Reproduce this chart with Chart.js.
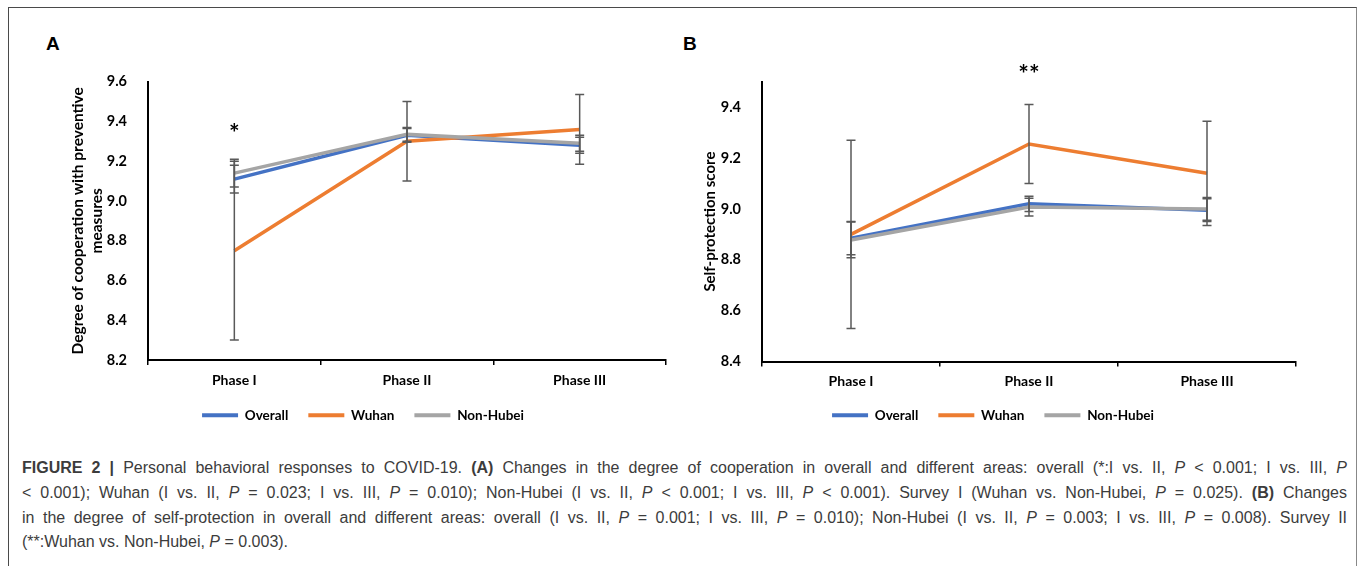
<!DOCTYPE html>
<html>
<head>
<meta charset="utf-8">
<script src="https://cdn.jsdelivr.net/npm/chart.js@4"></script>
<style>
  body { margin: 0; width: 1357px; height: 566px; overflow: hidden; background: #fff; }
  .frame { position: absolute; left: 8px; top: 7px; width: 1347px; height: 620px; border: 1px solid #4a4a4a; border-right-color: #888; }
  .panel { position: absolute; font: bold 19px "Liberation Sans", Arial, sans-serif; color: #000; }
  .box { position: absolute; }
  .caption { position: absolute; left: 22px; top: 456px; width: 1325px; font: 16px "Liberation Sans", Arial, sans-serif; color: #3c3c3c; line-height: 24.8px; }
  .caption div { text-align: justify; text-align-last: justify; }
  .caption div.last { text-align-last: left; }
</style>
</head>
<body>
<div class="frame"></div>
<div class="panel" style="left:46px; top:33px;">A</div>
<div class="panel" style="left:683px; top:33px;">B</div>
<div class="box" style="left:60px; top:60px;"><canvas id="chartA" width="620" height="372"></canvas></div>
<div class="box" style="left:690px; top:60px;"><canvas id="chartB" width="620" height="372"></canvas></div>
<div class="caption">
  <div><b>FIGURE 2 |</b> Personal behavioral responses to COVID-19. <b>(A)</b> Changes in the degree of cooperation in overall and different areas: overall (*:I vs. II, <i>P</i> &lt; 0.001; I vs. III, <i>P</i></div>
  <div>&lt; 0.001); Wuhan (I vs. II, <i>P</i> = 0.023; I vs. III, <i>P</i> = 0.010); Non-Hubei (I vs. II, <i>P</i> &lt; 0.001; I vs. III, <i>P</i> &lt; 0.001). Survey I (Wuhan vs. Non-Hubei, <i>P</i> = 0.025). <b>(B)</b> Changes</div>
  <div>in the degree of self-protection in overall and different areas: overall (I vs. II, <i>P</i> = 0.001; I vs. III, <i>P</i> = 0.010); Non-Hubei (I vs. II, <i>P</i> = 0.003; I vs. III, <i>P</i> = 0.008). Survey II</div>
  <div class="last">(**:Wuhan vs. Non-Hubei, <i>P</i> = 0.003).</div>
</div>
<script>
/* Dane */
var phases = ['Phase I', 'Phase II', 'Phase III'];

// A - cooperation with preventive measures
var overallA = [9.11, 9.33, 9.28];
var wuhanA = [8.75, 9.30, 9.36];
var nonHubeiA = [9.14, 9.335, 9.29];
var errOverallA = [0.07, 0.035, 0.04];
var errWuhanA = [0.45, 0.20, 0.175];
var errNonHubeiA = [0.07, 0.035, 0.04];
var ticksA = [8.2, 8.4, 8.6, 8.8, 9.0, 9.2, 9.4, 9.6];
var markA = ['Phase I', 9.36, '*'];

// B - self-protection score
var overallB = [8.885, 9.02, 8.995];
var wuhanB = [8.90, 9.255, 9.14];
var nonHubeiB = [8.878, 9.007, 9.0];
var errOverallB = [0.065, 0.03, 0.045];
var errWuhanB = [0.37, 0.155, 0.205];
var errNonHubeiB = [0.07, 0.035, 0.045];
var ticksB = [8.4, 8.6, 8.8, 9.0, 9.2, 9.4];
var markB = ['Phase II', 9.545, '**'];

var colOverall = '#4472C4';
var colWuhan = '#ED7D31';
var colNonHubei = '#A5A5A5';

/* Słupki błędów i gwiazdki */
var errorBars = {
    id: 'errorBars',
    afterDatasetsDraw: function (chart) {
        var ctx = chart.ctx;
        var yScale = chart.scales.y;
        ctx.save();
        ctx.strokeStyle = '#595959';
        ctx.lineWidth = 1.5;
        chart.data.datasets.forEach(function (ds, i) {
            var meta = chart.getDatasetMeta(i);
            meta.data.forEach(function (pt, j) {
                var top = yScale.getPixelForValue(ds.data[j] + ds.errors[j]);
                var bot = yScale.getPixelForValue(ds.data[j] - ds.errors[j]);
                ctx.beginPath();
                ctx.moveTo(pt.x, top); ctx.lineTo(pt.x, bot);
                ctx.moveTo(pt.x - 4.5, top); ctx.lineTo(pt.x + 4.5, top);
                ctx.moveTo(pt.x - 4.5, bot); ctx.lineTo(pt.x + 4.5, bot);
                ctx.stroke();
            });
        });
        ctx.restore();
    },
    afterDraw: function (chart) {
        var mark = chart.options.plugins.errorBars.mark;
        var ctx = chart.ctx;
        var x = chart.scales.x.getPixelForValue(phases.indexOf(mark[0]));
        var y = chart.scales.y.getPixelForValue(mark[1]);
        ctx.save();
        ctx.fillStyle = '#000';
        ctx.font = 'bold 25px Lato';
        ctx.textAlign = 'center';
        ctx.textBaseline = 'middle';
        ctx.fillText(mark[2], x, y + 5);
        ctx.restore();
    }
};

var makeChart = function (canvasId, overall, wuhan, nonHubei, errs, yMin, yMax, ticks, title, yWidth, titleFont, titlePad, xHeight, mark) {
    return new Chart(document.getElementById(canvasId), {
        type: 'line',
        data: {
            labels: phases,
            datasets: [
                { label: 'Overall', data: overall, errors: errs[0], borderColor: colOverall, backgroundColor: colOverall, borderWidth: 3.5, pointRadius: 0, order: 3 },
                { label: 'Wuhan', data: wuhan, errors: errs[1], borderColor: colWuhan, backgroundColor: colWuhan, borderWidth: 3.5, pointRadius: 0, order: 2 },
                { label: 'Non-Hubei', data: nonHubei, errors: errs[2], borderColor: colNonHubei, backgroundColor: colNonHubei, borderWidth: 3.5, pointRadius: 0, order: 1 }
            ]
        },
        options: {
            responsive: false,
            maintainAspectRatio: false,
            animation: false,
            layout: { padding: { top: 17, right: 14, left: 0, bottom: 0 } },
            scales: {
                x: {
                    offset: true,
                    grid: { display: true, offset: true, drawOnChartArea: false, drawTicks: true, tickLength: 5, color: '#000', lineWidth: 1.5 },
                    border: { color: '#000', width: 2 },
                    ticks: { color: '#000', padding: 7, font: { family: 'Lato', weight: 'bold', size: 14 } },
                    afterFit: function (s) { s.height = xHeight; }
                },
                y: {
                    min: yMin,
                    max: yMax,
                    grid: { display: false },
                    border: { color: '#000', width: 2 },
                    afterBuildTicks: function (s) { s.ticks = ticks.map(function (v) { return { value: v }; }); },
                    ticks: {
                        color: '#000', padding: 13,
                        font: { family: 'Lato', weight: 'bold', size: 14.5 },
                        callback: function (v) { return Number(v).toFixed(1); }
                    },
                    title: {
                        display: true, text: title, color: '#000',
                        padding: { top: titlePad, bottom: 0 },
                        font: { family: 'Lato', weight: 'bold', size: titleFont, lineHeight: 1.25 }
                    },
                    afterFit: function (s) { s.width = yWidth; }
                }
            },
            plugins: {
                tooltip: { enabled: false },
                errorBars: { mark: mark },
                legend: {
                    position: 'bottom',
                    labels: {
                        color: '#000', boxWidth: 36, boxHeight: 4, padding: 20,
                        font: { family: 'Lato', weight: 'bold', size: 13.5 },
                        sort: function (a, b) { return a.datasetIndex - b.datasetIndex; },
                        generateLabels: function (chart) {
                            return Chart.defaults.plugins.legend.labels.generateLabels(chart).map(function (item) {
                                item.lineWidth = 0;
                                return item;
                            });
                        }
                    }
                }
            }
        },
        plugins: [errorBars]
    });
};

var chartA = makeChart('chartA', overallA, wuhanA, nonHubeiA, [errOverallA, errWuhanA, errNonHubeiA],
    8.2, 9.6, ticksA, ['Degree of cooperation with preventive', 'measures'], 88, 15.5, 8, 28.5, markA);
var chartB = makeChart('chartB', overallB, wuhanB, nonHubeiB, [errOverallB, errWuhanB, errNonHubeiB],
    8.4, 9.5, ticksB, 'Self-protection score', 72, 15, 11, 27, markB);
</script>
</body>
</html>
